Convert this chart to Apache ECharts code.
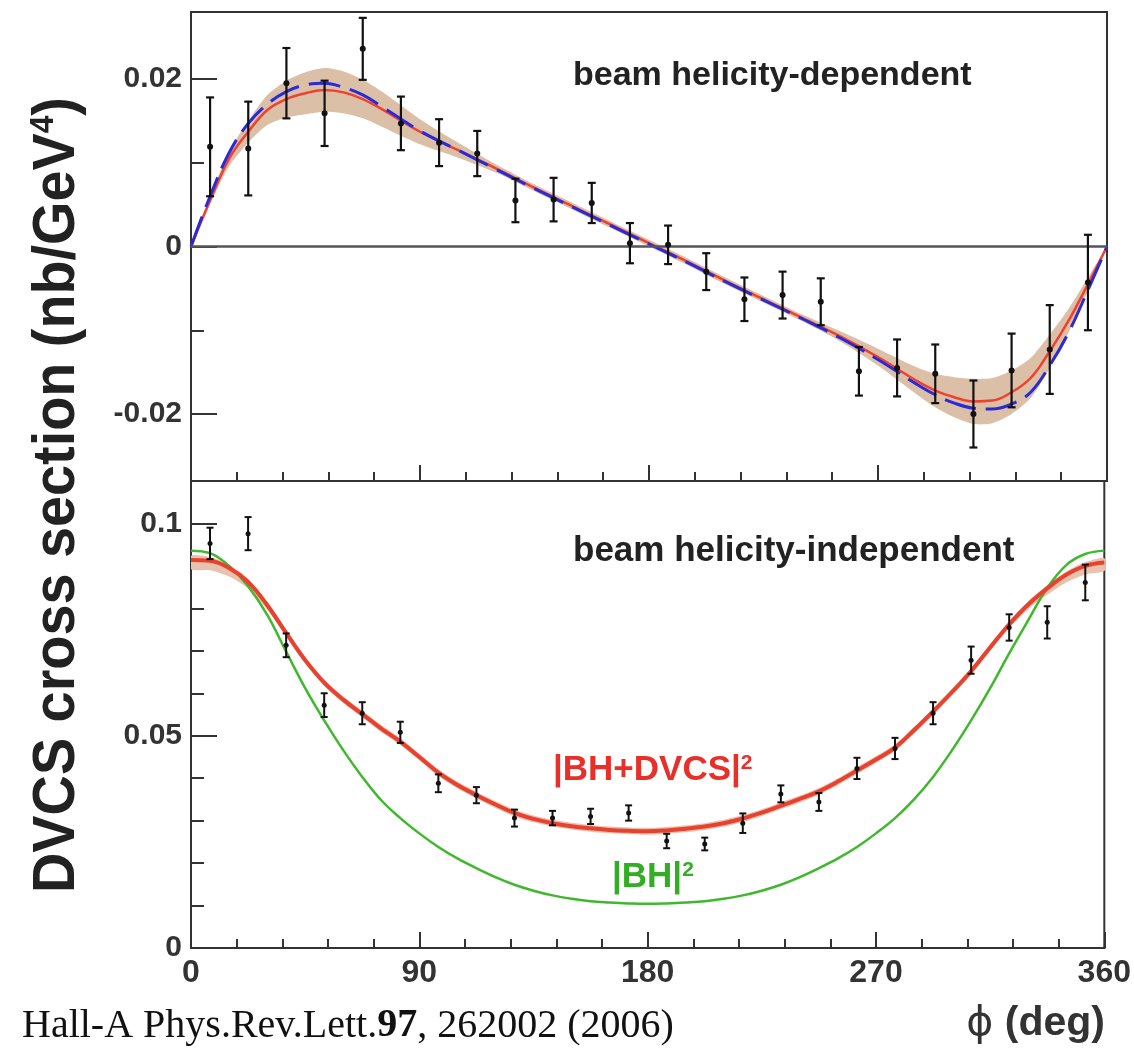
<!DOCTYPE html>
<html>
<head>
<meta charset="utf-8">
<title>DVCS cross section</title>
<script src="https://cdn.jsdelivr.net/npm/echarts@6/dist/echarts.min.js"></script>
<style>
  html, body { margin: 0; padding: 0; background: #fff; }
  #chart { width: 1134px; height: 1050px; }
</style>
</head>
<body>
<div id="chart"></div>
<script>
// phi bins of the measured points (deg)
var phiBins = [7.5, 22.5, 37.5, 52.5, 67.5, 82.5, 97.5, 112.5, 127.5, 142.5, 157.5, 172.5,
    187.5, 202.5, 217.5, 232.5, 247.5, 262.5, 277.5, 292.5, 307.5, 322.5, 337.5, 352.5];

// beam helicity-dependent points
var helDepVals = [0.0119, 0.0117, 0.0195, 0.0159, 0.0236, 0.0147, 0.0124, 0.0111, 0.0055, 0.0056, 0.0052, 0.0004,
    0.0002, -0.0030, -0.0063, -0.0058, -0.0066, -0.0149, -0.0145, -0.0152, -0.0200, -0.0148, -0.0123, -0.0043];
var helDepErrs = [0.0059, 0.0056, 0.0042, 0.0039, 0.0037, 0.0032, 0.0028, 0.0027, 0.0026, 0.0026, 0.0024, 0.0024,
    0.0023, 0.0022, 0.0026, 0.0028, 0.0028, 0.0029, 0.0034, 0.0035, 0.0040, 0.0044, 0.0053, 0.0057];

// beam helicity-independent points
var helIndVals = [0.0953, 0.0976, 0.0713, 0.0572, 0.0553, 0.0508, 0.0388, 0.0360, 0.0306, 0.0306, 0.0310, 0.0318,
    0.0252, 0.0245, 0.0294, 0.0363, 0.0344, 0.0423, 0.0470, 0.0553, 0.0678, 0.0755, 0.0767, 0.0861];
var helIndErrs = [0.0037, 0.0039, 0.0028, 0.0028, 0.0026, 0.0025, 0.0021, 0.0019, 0.0020, 0.0017, 0.0018, 0.0018,
    0.0017, 0.0015, 0.0023, 0.0020, 0.0021, 0.0025, 0.0025, 0.0026, 0.0032, 0.0031, 0.0038, 0.0042];

// fit curves, upper panel
var curvePhiUp = [0, 7.5, 15, 22.5, 30, 37.5, 45, 52.5, 60, 67.5, 75,
    90, 105, 120, 135, 150, 165, 180, 195, 210, 225, 240, 255, 270,
    285, 292.5, 300, 307.5, 315, 322.5, 330, 337.5, 345, 352.5, 360];
var fitRedUp = [0, 0.0055, 0.0105, 0.0137, 0.0163, 0.0176, 0.0183, 0.0187, 0.0184, 0.0176, 0.0164,
    0.0137, 0.0115, 0.0093, 0.0070, 0.0048, 0.0026, 0.0004, -0.0018, -0.0041, -0.0063, -0.0085, -0.0107, -0.0132,
    -0.0160, -0.0172, -0.0180, -0.0185, -0.0184, -0.0174, -0.0157, -0.0125, -0.0088, -0.0045, 0];
var fitBlueUp = [0, 0.0060, 0.0112, 0.0147, 0.0170, 0.0185, 0.0193, 0.0195, 0.0190, 0.0181, 0.0167,
    0.0138, 0.0115, 0.0092, 0.0069, 0.0047, 0.0025, 0.0003, -0.0019, -0.0042, -0.0064, -0.0086, -0.0109, -0.0135,
    -0.0164, -0.0177, -0.0187, -0.0193, -0.0194, -0.0188, -0.0174, -0.0142, -0.0102, -0.0052, 0];
var bandHalfUp = [0, 0.0004, 0.0009, 0.0013, 0.0018, 0.0022, 0.0025, 0.0026, 0.0025, 0.0023, 0.0021,
    0.0015, 0.0009, 0.0005, 0.0004, 0.0004, 0.0004, 0.0004, 0.0004, 0.0004, 0.0004, 0.0004, 0.0006, 0.0010,
    0.0016, 0.0020, 0.0024, 0.0027, 0.0027, 0.0026, 0.0024, 0.0020, 0.0014, 0.0008, 0];

// curves, lower panel
var curvePhiLow = [0, 7.5, 15, 22.5, 30, 37.5, 45, 52.5, 60, 67.5, 75, 82.5, 90, 97.5, 105, 112.5, 120,
    127.5, 135, 142.5, 150, 157.5, 165, 172.5, 180, 187.5, 195, 202.5, 210, 217.5, 225, 232.5, 240,
    247.5, 255, 262.5, 270, 277.5, 285, 292.5, 300, 307.5, 315, 322.5, 330, 337.5, 345, 352.5, 360];
var fitRedLow = [0.0914, 0.0912, 0.0895, 0.0862, 0.0808, 0.0742, 0.0678, 0.0625, 0.0585, 0.0551, 0.0517, 0.0486,
    0.0450, 0.0413, 0.0384, 0.0360, 0.0338, 0.0318, 0.0304, 0.0294, 0.0287, 0.0282, 0.0278, 0.0276, 0.0275,
    0.0277, 0.0281, 0.0286, 0.0294, 0.0305, 0.0319, 0.0335, 0.0351, 0.0369, 0.0392, 0.0418, 0.0444, 0.0472,
    0.0513, 0.0557, 0.0603, 0.0652, 0.0708, 0.0762, 0.0809, 0.0847, 0.0879, 0.0900, 0.0908];
var bhGreenLow = [0.0936, 0.0930, 0.0900, 0.0852, 0.0785, 0.0698, 0.0612, 0.0536, 0.0466, 0.0403, 0.0348, 0.0306,
    0.0270, 0.0238, 0.0211, 0.0188, 0.0167, 0.0149, 0.0135, 0.0124, 0.0116, 0.0110, 0.0107, 0.0105, 0.0104,
    0.0105, 0.0107, 0.0110, 0.0116, 0.0124, 0.0135, 0.0149, 0.0167, 0.0188, 0.0211, 0.0238, 0.0270, 0.0306,
    0.0350, 0.0403, 0.0466, 0.0536, 0.0612, 0.0694, 0.0772, 0.0848, 0.0902, 0.0928, 0.0936];
var bandLoLow = [0.0022, 0.0022, 0.0020, 0.0015, 0.0011, 0.0008, 0.0008, 0.0008, 0.0008, 0.0008, 0.0008, 0.0008,
    0.0008, 0.0008, 0.0008, 0.0008, 0.0008, 0.0008, 0.0008, 0.0008, 0.0008, 0.0008, 0.0008, 0.0008, 0.0008,
    0.0008, 0.0008, 0.0008, 0.0008, 0.0008, 0.0008, 0.0008, 0.0008, 0.0008, 0.0008, 0.0008, 0.0008, 0.0008,
    0.0008, 0.0008, 0.0008, 0.0008, 0.0008, 0.0008, 0.0011, 0.0015, 0.0018, 0.0020, 0.0020];
var bandHiLow = [0.0010, 0.0009, 0.0008, 0.0008, 0.0008, 0.0008, 0.0008, 0.0008, 0.0008, 0.0008, 0.0008, 0.0008,
    0.0008, 0.0008, 0.0008, 0.0008, 0.0008, 0.0008, 0.0008, 0.0008, 0.0008, 0.0008, 0.0008, 0.0008, 0.0008,
    0.0008, 0.0008, 0.0008, 0.0008, 0.0008, 0.0008, 0.0008, 0.0008, 0.0008, 0.0008, 0.0008, 0.0008, 0.0008,
    0.0008, 0.0008, 0.0008, 0.0008, 0.0008, 0.0008, 0.0008, 0.0008, 0.0008, 0.0009, 0.0010];

// tick values
var xTicks = [0, 90, 180, 270, 360];
var yTicksUp = [-0.02, 0, 0.02];
var yMinorUp = [-0.01, 0.01];
var yTicksLow = [0, 0.05, 0.1];
var yMinorLow = [0.01, 0.02, 0.03, 0.04, 0.06, 0.07, 0.08, 0.09];

var FRAME = '#333';
var SANS = '"Liberation Sans", Arial, Helvetica, sans-serif';

function pairs(xs, ys) {
    return xs.map(function (x, i) { return [x, ys[i]]; });
}
// rows [phi, lower edge, upper edge] for the error band
function bandRows(xs, mid, lo, hi) {
    return xs.map(function (x, i) { return [x, mid[i] - lo[i], mid[i] + hi[i]]; });
}
function errData(vals, errs) {
    return phiBins.map(function (p, i) { return [p, vals[i], errs[i]]; });
}

// whole band drawn as one polygon when the first row is rendered
function bandItem(color) {
    return function (params, api) {
        if (params.dataIndexInside !== 0) return null;
        var n = params.dataInsideLength;
        var pts = [];
        for (var i = 0; i < n; i++) {
            pts.push(api.coord([api.value(0, i), api.value(2, i)]));
        }
        for (var j = n - 1; j >= 0; j--) {
            pts.push(api.coord([api.value(0, j), api.value(1, j)]));
        }
        return {
            type: 'polygon',
            shape: { points: pts, smooth: 0.25 },
            style: { fill: color }
        };
    };
}

function errBar(lw, cap, r) {
    return function (params, api) {
        var x = api.value(0), y = api.value(1), e = api.value(2);
        var t = api.coord([x, y + e]);
        var b = api.coord([x, y - e]);
        var c = api.coord([x, y]);
        var st = { stroke: '#111', lineWidth: lw };
        return {
            type: 'group',
            children: [
                { type: 'line', shape: { x1: t[0], y1: t[1], x2: b[0], y2: b[1] }, style: st },
                { type: 'line', shape: { x1: t[0] - cap, y1: t[1], x2: t[0] + cap, y2: t[1] }, style: st },
                { type: 'line', shape: { x1: b[0] - cap, y1: b[1], x2: b[0] + cap, y2: b[1] }, style: st },
                { type: 'circle', shape: { cx: c[0], cy: c[1], r: r }, style: { fill: '#111' } }
            ]
        };
    };
}

function yLabel(v) {
    return String(+(+v).toFixed(3));
}

var gridUp = { left: 191, top: 12, width: 916, height: 469 };
var gridLow = { left: 191, top: 481, width: 916, height: 467 };

function xAxisDef(idx, labels) {
    return {
        gridIndex: idx, type: 'value', min: 0, max: 360, interval: 90,
        axisLine: { show: true, onZero: false, lineStyle: { color: FRAME, width: 2 } },
        axisTick: { inside: true, length: 16, lineStyle: { color: FRAME, width: 2 } },
        minorTick: { show: true, splitNumber: 5, length: 9, lineStyle: { color: FRAME, width: 2 } },
        axisLabel: labels ? {
            show: true, margin: 9, color: '#333', fontFamily: SANS, fontWeight: 'bold', fontSize: 32,
            customValues: xTicks
        } : { show: false },
        splitLine: { show: false }
    };
}

var dom = document.getElementById('chart');
var myChart = echarts.init(dom, null, { renderer: 'canvas' });

var option = {
    animation: false,
    backgroundColor: '#fff',
    grid: [
        Object.assign({ show: true, borderColor: FRAME, borderWidth: 2, backgroundColor: 'transparent' }, gridUp),
        Object.assign({ show: true, borderColor: FRAME, borderWidth: 2, backgroundColor: 'transparent' }, gridLow),
        Object.assign({ show: false }, gridUp),
        Object.assign({ show: false }, gridLow)
    ],
    xAxis: [
        xAxisDef(0, false),
        xAxisDef(1, true),
        { gridIndex: 2, type: 'value', min: 0, max: 360, show: false },
        { gridIndex: 3, type: 'value', min: 0, max: 360, show: false }
    ],
    yAxis: [
        {
            gridIndex: 0, type: 'value', min: -0.028, max: 0.028,
            axisLine: { show: true, onZero: false, lineStyle: { color: FRAME, width: 2 } },
            axisTick: { inside: true, length: 26, customValues: yTicksUp, lineStyle: { color: FRAME, width: 2 } },
            axisLabel: {
                margin: 9, color: '#333', fontFamily: SANS, fontWeight: 'bold', fontSize: 30,
                customValues: yTicksUp, formatter: yLabel
            },
            splitLine: { show: false }
        },
        {
            gridIndex: 1, type: 'value', min: 0, max: 0.11,
            axisLine: { show: true, onZero: false, lineStyle: { color: FRAME, width: 2 } },
            axisTick: { inside: true, length: 26, customValues: yTicksLow, lineStyle: { color: FRAME, width: 2 } },
            axisLabel: {
                margin: 9, color: '#333', fontFamily: SANS, fontWeight: 'bold', fontSize: 30,
                customValues: yTicksLow, formatter: yLabel
            },
            splitLine: { show: false }
        },
        {
            gridIndex: 2, type: 'value', min: -0.028, max: 0.028,
            axisLine: { show: false, onZero: false },
            axisTick: { inside: true, length: 13, customValues: yMinorUp, lineStyle: { color: FRAME, width: 2 } },
            axisLabel: { show: false },
            splitLine: { show: false }
        },
        {
            gridIndex: 3, type: 'value', min: 0, max: 0.11,
            axisLine: { show: false, onZero: false },
            axisTick: { inside: true, length: 13, customValues: yMinorLow, lineStyle: { color: FRAME, width: 2 } },
            axisLabel: { show: false },
            splitLine: { show: false }
        }
    ],
    series: [
        // ---- upper panel ----
        {
            name: 'bandUp', type: 'custom', xAxisIndex: 0, yAxisIndex: 0, silent: true, clip: true,
            renderItem: bandItem('#dbbfa6'), encode: { x: 0, y: [1, 2] },
            data: bandRows(curvePhiUp, fitRedUp, bandHalfUp, bandHalfUp), z: 1
        },
        {
            name: 'fitRedUp', type: 'line', xAxisIndex: 0, yAxisIndex: 0,
            smooth: 0.4, showSymbol: false, silent: true, z: 3,
            lineStyle: { color: '#f0412e', width: 2.5 },
            data: pairs(curvePhiUp, fitRedUp),
            markLine: {
                silent: true, symbol: 'none', label: { show: false },
                lineStyle: { color: '#555', width: 2.5, type: 'solid' },
                data: [{ yAxis: 0 }]
            }
        },
        {
            name: 'fitBlueUp', type: 'line', xAxisIndex: 0, yAxisIndex: 0,
            smooth: 0.4, showSymbol: false, silent: true, z: 3,
            lineStyle: { color: '#2b2bd6', width: 3, type: [32, 10] },
            data: pairs(curvePhiUp, fitBlueUp)
        },
        {
            name: 'helDep', type: 'custom', xAxisIndex: 0, yAxisIndex: 0,
            renderItem: errBar(2.2, 4, 3), encode: { x: 0, y: 1 },
            data: errData(helDepVals, helDepErrs), z: 5
        },
        // ---- lower panel ----
        {
            name: 'bandLow', type: 'custom', xAxisIndex: 1, yAxisIndex: 1, silent: true, clip: true,
            renderItem: bandItem('#e9c2ae'), encode: { x: 0, y: [1, 2] },
            data: bandRows(curvePhiLow, fitRedLow, bandLoLow, bandHiLow), z: 1
        },
        {
            name: 'bhGreen', type: 'line', xAxisIndex: 1, yAxisIndex: 1,
            smooth: 0.4, showSymbol: false, silent: true, z: 3,
            lineStyle: { color: '#3fb82d', width: 2.5 },
            data: pairs(curvePhiLow, bhGreenLow)
        },
        {
            name: 'fitRedLow', type: 'line', xAxisIndex: 1, yAxisIndex: 1,
            smooth: 0.4, showSymbol: false, silent: true, z: 3,
            lineStyle: { color: '#e8412f', width: 4 },
            data: pairs(curvePhiLow, fitRedLow)
        },
        {
            name: 'helInd', type: 'custom', xAxisIndex: 1, yAxisIndex: 1,
            renderItem: errBar(2, 3.5, 2.5), encode: { x: 0, y: 1 },
            data: errData(helIndVals, helIndErrs), z: 5
        }
    ],
    graphic: [
        {
            type: 'text', x: 573, y: 76, z: 10,
            style: {
                text: 'beam helicity-dependent', fill: '#222',
                font: 'bold 34px ' + SANS, align: 'left', verticalAlign: 'middle'
            }
        },
        {
            type: 'text', x: 573, y: 551, z: 10,
            style: {
                text: 'beam helicity-independent', fill: '#222',
                font: 'bold 35px ' + SANS, align: 'left', verticalAlign: 'middle'
            }
        },
        {
            type: 'text', x: 553, y: 770, z: 10,
            style: {
                text: '|BH+DVCS|{s|2}', fill: '#e8302a',
                font: 'bold 35px ' + SANS, align: 'left', verticalAlign: 'middle',
                rich: { s: { fontSize: 21, fontWeight: 'bold', fontFamily: SANS, fill: '#e8302a', verticalAlign: 'top', padding: [0, 0, 14, 0] } }
            }
        },
        {
            type: 'text', x: 612, y: 877, z: 10,
            style: {
                text: '|BH|{s|2}', fill: '#33ad25',
                font: 'bold 35px ' + SANS, align: 'left', verticalAlign: 'middle',
                rich: { s: { fontSize: 21, fontWeight: 'bold', fontFamily: SANS, fill: '#33ad25', verticalAlign: 'top', padding: [0, 0, 14, 0] } }
            }
        },
        {
            type: 'text', x: 57, y: 495, rotation: Math.PI / 2, scaleX: 0.93, z: 10,
            style: {
                text: 'DVCS cross section (nb/GeV{s|4})', fill: '#222',
                font: 'bold 60px ' + SANS,
                align: 'center', verticalAlign: 'middle',
                rich: { s: { fontSize: 34, fontWeight: 'bold', fontFamily: SANS, fill: '#222', verticalAlign: 'top', padding: [0, 0, 24, 0] } }
            }
        },
        {
            type: 'text', x: 1105, y: 1024, z: 10,
            style: {
                text: '{p|\u03d5} (deg)', fill: '#333',
                font: 'bold 41px ' + SANS, align: 'right', verticalAlign: 'middle',
                rich: { p: { fontSize: 41, fontFamily: '"DejaVu Sans", sans-serif', fill: '#333' } }
            }
        },
        {
            type: 'text', x: 22, y: 1026, z: 10,
            style: {
                text: '{n|Hall-A Phys.Rev.Lett.}{b|97}{n|, 262002 (2006)}',
                align: 'left', verticalAlign: 'middle',
                rich: {
                    n: { fontSize: 40, fontFamily: '"Liberation Serif", "DejaVu Serif", serif', fill: '#111' },
                    b: { fontSize: 40, fontWeight: 'bold', fontFamily: '"Liberation Serif", "DejaVu Serif", serif', fill: '#111' }
                }
            }
        }
    ]
};

myChart.setOption(option);
</script>
</body>
</html>
